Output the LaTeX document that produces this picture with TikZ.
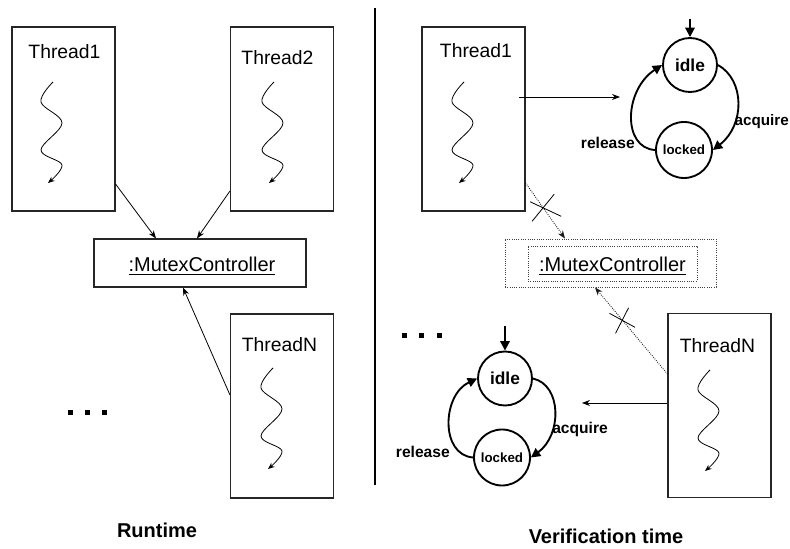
\documentclass[tikz,border=0pt]{standalone}
\usepackage{fontspec}
\setmainfont{Liberation Sans}
\usetikzlibrary{arrows.meta,calc}
\begin{document}
\begin{tikzpicture}[x=0.75pt,y=-0.75pt,
  thread/.style={draw=black!85, line width=0.8pt, minimum width=77.25pt, minimum height=138pt, inner sep=0pt},
  tlabel/.style={font=\fontsize{14.5}{16}\selectfont, anchor=base, inner sep=0pt},
  mlabel/.style={font=\fontsize{15}{17}\selectfont, anchor=base, inner sep=0pt},
  conn/.style={-{Stealth[length=6pt,width=4.5pt]}, line width=0.6pt},
  dconn/.style={conn, densely dotted, draw=black!90, line width=0.7pt},
  crossline/.style={line width=0.6pt},
  state/.style={circle, draw, line width=1.4pt, inner sep=0pt},
  trans/.style={line width=1.4pt, -{Triangle[length=7pt,width=7pt]}},
  tlab/.style={font=\bfseries\fontsize{11.7}{13}\selectfont, inner sep=0pt},
  caption/.style={font=\bfseries\fontsize{15}{17}\selectfont, anchor=base, inner sep=0pt},
  wave/.pic={\draw[line width=0.6pt,-{Stealth[length=5pt,width=4pt]}] plot[smooth,tension=0.6] coordinates {(0,0) (-12,20) (9,41) (-12,68) (9,83) (-5,101)};}
]
\useasboundingbox (0,0) rectangle (790,549);

% ---------------- Runtime (left) ----------------
\node[thread] (L1) at (63.5,119) {};
\node[tlabel] (L1lab) at (64.5,59) {Thread1};
\pic at ([shift={(-10.5,-37)}]L1.center) {wave};

\node[thread] (L2) at (282,119) {};
\node[tlabel] (L2lab) at (277.5,65) {Thread2};
\pic at ([shift={(-8,-37)}]L2.center) {wave};

\node[thread] (LN) at (282,406) {};
\node[tlabel] (LNlab) at (279.5,352) {ThreadN};
\pic at ([shift={(-9,-38)}]LN.center) {wave};

\node[draw=black!85, line width=0.8pt, minimum width=159pt, minimum height=36pt, inner sep=0pt] (LM) at (200,263) {};
\node[mlabel] (LMlab) at (202,272) {\underline{:MutexController}};

\draw[conn] ([shift={(0,65)}]L1.east) -- ([shift={(-44,0)}]LM.north);
\draw[conn] ([shift={(0,72)}]L2.west) -- ([shift={(-3,0)}]LM.north);
\draw[conn] ([shift={(0,-11)}]LN.west) -- ([shift={(-17,0)}]LM.south);

\fill (67.5,409.5) rectangle ++(5,5);
\fill (84.5,409.5) rectangle ++(5,5);
\fill (101.5,409.5) rectangle ++(5,5);

\node[caption] (cap1) at (157,537) {Runtime};

% divider
\draw[line width=0.8pt] (375,8) -- (375,485);

% ---------------- Verification time (right) ----------------
\node[thread] (R1) at (473.5,119) {};
\node[tlabel] (R1lab) at (476,58) {Thread1};
\pic at ([shift={(-9.5,-37)}]R1.center) {wave};

\node[thread] (RN) at (719.5,405.5) {};
\node[tlabel] (RNlab) at (717.5,353) {ThreadN};
\pic at ([shift={(-9.5,-35.5)}]RN.center) {wave};

\node[draw=black!75, densely dotted, line width=0.7pt, minimum width=158.25pt, minimum height=36pt, inner sep=0pt] (RM) at (610.5,263) {};
\node[draw=black!75, densely dotted, line width=0.7pt, minimum width=126.75pt, minimum height=26.25pt, inner sep=0pt] (RMi) at (612.5,263.5) {};
\node[mlabel] (RMlab) at (612.5,272) {\underline{:MutexController}};

\draw[dconn] ([shift={(0,64)}]R1.east) -- coordinate[pos=0.446] (x1) ([shift={(-45.5,0)}]RM.north);
\draw[crossline] ([shift={(-11,13.5)}]x1) -- ([shift={(11,-13.5)}]x1);
\draw[crossline] ([shift={(-13,-6)}]x1) -- ([shift={(18,8.5)}]x1);

\draw[dconn] ([shift={(0,-31.5)}]RN.west) -- coordinate[pos=0.62] (x2) ([shift={(-15.5,0)}]RM.south);
\draw[crossline] ([shift={(-13,-7)}]x2) -- ([shift={(12.5,7)}]x2);
\draw[crossline] ([shift={(-7,13)}]x2) -- ([shift={(6,-12.5)}]x2);

% top state machine
\node[state, minimum size=40.5pt, font=\bfseries\fontsize{13}{14}\selectfont] (I1) at (690,65) {idle};
\node[state, minimum size=42pt, font=\bfseries\fontsize{10}{12}\selectfont] (K1) at (684,150) {locked};
\coordinate (init1) at (690,19);
\draw[trans] (init1) -- (I1.north);
\draw[trans] (K1.west) .. controls (622,148) and (624,90) .. (I1.west);
\draw[trans] (I1.east) .. controls (745,80) and (745,125) .. (K1.east);
\node[tlab, anchor=base east, font=\bfseries\fontsize{11.4}{13}\selectfont] (acq1) at (789,126) {acquire};
\node[tlab, anchor=base east] (rel1) at (635,149) {release};

\coordinate (smtop) at (620,97);
\draw[conn] ([shift={(-7,-22)}]R1.east) -- (smtop);

% bottom state machine
\node[state, minimum size=40.5pt, font=\bfseries\fontsize{13}{14}\selectfont] (I2) at (505,378.5) {idle};
\node[state, minimum size=42pt, font=\bfseries\fontsize{10}{12}\selectfont] (K2) at (502,457.5) {locked};
\coordinate (init2) at (505,326);
\draw[trans] (init2) -- (I2.north);
\draw[trans] (K2.west) .. controls (440,455) and (442,395) .. (I2.west);
\draw[trans] (I2.east) .. controls (562,385) and (562,435) .. (K2.east);
\node[tlab, anchor=base west] (acq2) at (552,433) {acquire};
\node[tlab, anchor=base east] (rel2) at (450,457) {release};

\coordinate (smbot) at (582,403);
\draw[conn] ([shift={(0,-2.5)}]RN.west) -- (smbot);

\fill (401.5,333.5) rectangle ++(5,5);
\fill (418.5,333.5) rectangle ++(5,5);
\fill (436.5,333.5) rectangle ++(5,5);

\node[caption] (cap2) at (606,543) {Verification time};
\end{tikzpicture}
\end{document}
